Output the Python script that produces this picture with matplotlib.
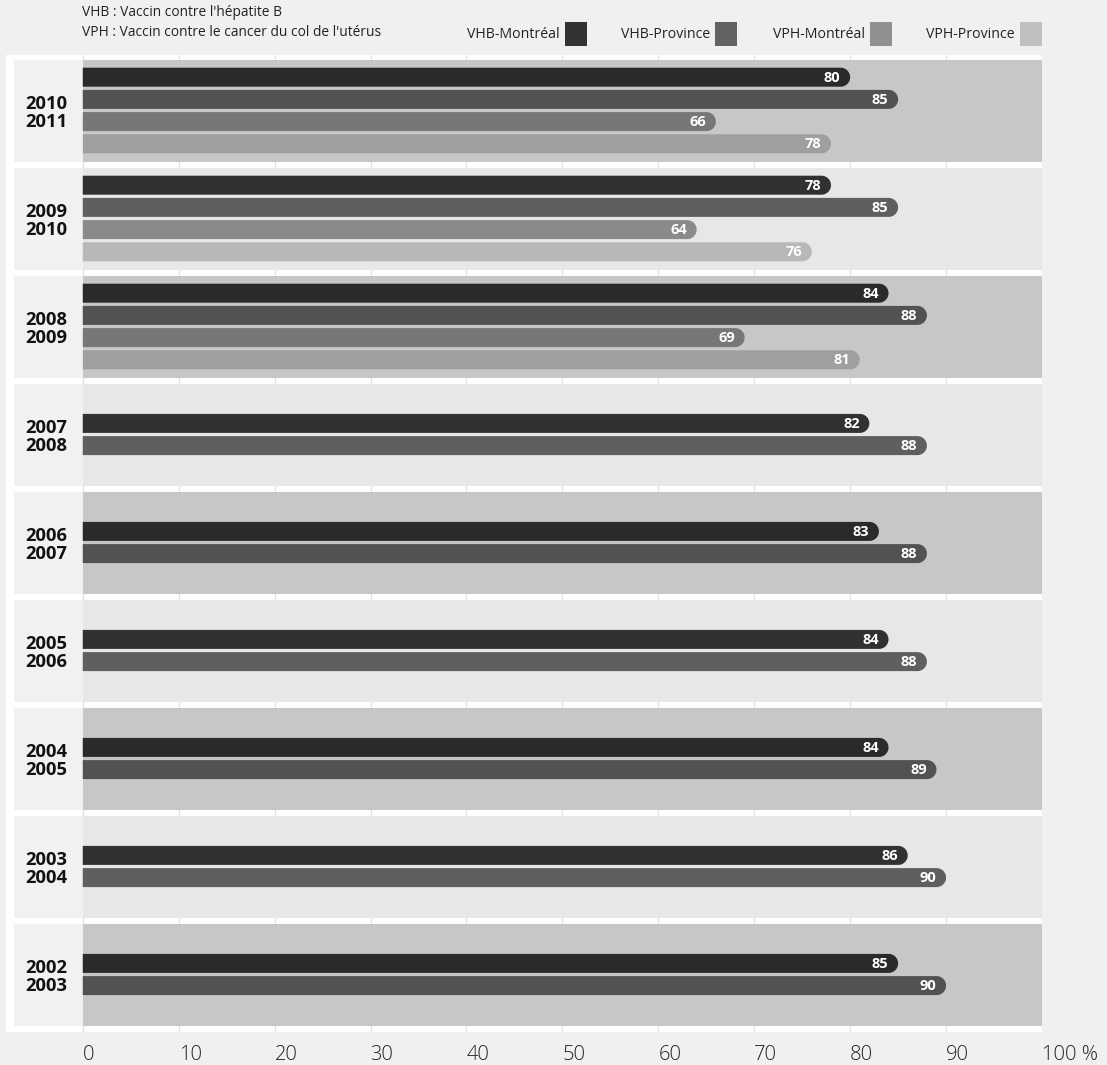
import numpy as np
import matplotlib
matplotlib.use("Agg")
import matplotlib.pyplot as plt
from matplotlib.patches import Rectangle, Polygon

plt.rcParams['font.family'] = ['Open Sans', 'DejaVu Sans']

# vaccination coverage (%) by school year, most recent first
periods = ["2010\n2011", "2009\n2010", "2008\n2009", "2007\n2008", "2006\n2007",
           "2005\n2006", "2004\n2005", "2003\n2004", "2002\n2003"]
vhb_mtl = [80, 78, 84, 82, 83, 84, 84, 86, 85]
vhb_prov = [85, 85, 88, 88, 88, 88, 89, 90, 90]
vph_mtl = [66, 64, 69]
vph_prov = [78, 76, 81]

series = [vhb_mtl, vhb_prov, vph_mtl, vph_prov]
names = ["VHB-Montréal", "VHB-Province", "VPH-Montréal", "VPH-Province"]
alphas = [0.79, 0.59, 0.40, 0.20]   # black at these opacities gives the grey shades

ticks = list(range(0, 101, 10))
tick_labels = [str(t) for t in ticks[:-1]] + ["100 %"]

W, H = 1107, 1065
fig = plt.figure(figsize=(W / 100, H / 100), dpi=100, facecolor='#f0f0f0')

# axes in pixel-like y units (downwards), x in percent
ax = fig.add_axes([6 / W, (H - 1032) / H, 1036 / W, 977 / H])
ax.set_xlim(-8, 100)
ax.set_ylim(977, 0)
ax.set_facecolor('white')
ax.set_axisbelow(True)
for s in ax.spines.values():
    s.set_visible(False)

px_per_unit = 1036 / 108.0
label_col_left = -8 + 8 / px_per_unit

TOP, STEP, BAND = 5, 108, 102
BAR_STEP, BAR_H = 22.2, 19

# faint grid, only seen in the white gaps between bands
grid = ax.vlines(ticks, 0, 977, color='#e2e2e2', lw=1)
grid.set_zorder(0)


def rounded_bar(v, yc, h, alpha):
    ry = h / 2
    rx = ry / px_per_unit
    t = np.linspace(np.pi / 2, -np.pi / 2, 40)
    xs = np.concatenate([[0], v - rx + rx * np.cos(t), [0]])
    ys = np.concatenate([[yc - ry], yc - ry * np.sin(t), [yc + ry]])
    ax.add_patch(Polygon(np.column_stack([xs, ys]), closed=True,
                         facecolor='black', alpha=alpha, lw=0, zorder=3))


for i, period in enumerate(periods):
    top = TOP + i * STEP
    center = top + BAND / 2
    band_color = '#c6c7c9' if i % 2 == 0 else '#e6e7e8'
    ax.add_patch(Rectangle((0, top), 100, BAND, facecolor=band_color, lw=0, zorder=2))
    ax.add_patch(Rectangle((label_col_left, top), -label_col_left, BAND,
                           facecolor='#f1f1f1', lw=0, zorder=2))
    ax.text(-3.83, center + 2, period, ha='center', va='center',
            fontsize=13.2, fontweight='bold', linespacing=1.02, color='#111111', zorder=4)

    vals = [s[i] for s in series if i < len(s)]
    n = len(vals)
    for k, v in enumerate(vals):
        yc = center + (k - (n - 1) / 2) * BAR_STEP - 0.5
        rounded_bar(v, yc, BAR_H, alphas[k])
        ax.text(v - 1.0, yc + 0.5, str(v), ha='right', va='center', color='white',
                fontsize=10.5, fontweight='bold', zorder=5)

ax.set_yticks([])
ax.set_xticks(ticks, tick_labels)
ax.tick_params(axis='x', length=0, pad=9, labelsize=14.5, labelcolor='#222222')
for lbl in ax.get_xticklabels():
    lbl.set_ha('left')
    lbl.set_fontweight('light')

# header notes and legend
fig.text(82 / W, 1 - 12 / H, "VHB : Vaccin contre l'hépatite B",
         va='center', fontsize=9.9, color='#222222')
fig.text(82 / W, 1 - 33 / H, "VPH : Vaccin contre le cancer du col de l'utérus",
         va='center', fontsize=9.9, color='#222222')

legend_x = [565, 715, 870, 1019.5]
for name, a, lx in zip(names, alphas, legend_x):
    fig.patches.append(Rectangle((lx / W, 1 - 46 / H), 22 / W, 24 / H,
                                 transform=fig.transFigure, facecolor='black',
                                 alpha=a, lw=0))
    fig.text((lx - 5) / W, 1 - 34 / H, name, ha='right', va='center',
             fontsize=10.2, color='#222222')

fig.savefig('out.png', dpi=100, facecolor=fig.get_facecolor())
